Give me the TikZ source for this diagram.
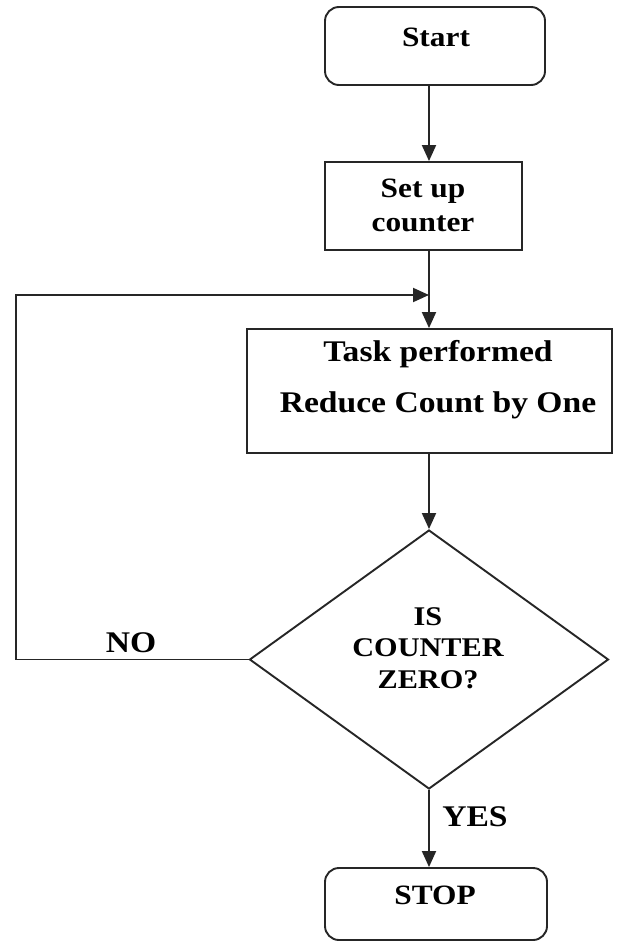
\documentclass[tikz,border=0pt]{standalone}
\usepackage{fontspec}
\setmainfont{Liberation Serif}[FakeStretch=1.12]
\usetikzlibrary{arrows.meta,shapes.geometric}
\begin{document}
\begin{tikzpicture}[x=1pt,y=-1pt,
  line/.style={draw=black!85, line width=1.9pt},
  arr/.style={line, -{Triangle[width=14pt,length=16pt]}},
  termbox/.style={line, rounded corners=14pt, inner sep=0pt},
  procbox/.style={line, inner sep=0pt},
  decbox/.style={line, diamond, inner sep=0pt, minimum width=359pt, minimum height=259pt},
  txt/.style={font=\bfseries\fontsize{28}{34}\selectfont, align=center, inner sep=0pt},
  dtxt/.style={font=\bfseries\fontsize{27}{31.5}\selectfont, align=center, inner sep=0pt},
  bigtxt/.style={font=\bfseries\fontsize{30}{51}\selectfont, align=center, inner sep=0pt}]

\useasboundingbox[fill=white] (0,0) rectangle (623,942);

% shapes
\node[termbox, minimum width=220pt, minimum height=78pt] (start) at (435,46) {};
\node[procbox, minimum width=197pt, minimum height=88pt] (setup) at (423.5,206) {};
\node[procbox, minimum width=365pt, minimum height=124pt] (task) at (429.5,391) {};
\node[decbox] (dec) at (429,659.5) {};
\node[termbox, minimum width=222pt, minimum height=72pt] (stop) at (436,904) {};

% texts
\node[txt] (starttxt) at (436,37) {Start};
\node[txt] (setuptxt) at (423,205) {Set up\\counter};
\node[bigtxt] (tasktxt) at (438,380) {Task performed\\Reduce Count by One};
\node[dtxt] (dectxt) at (428,648) {IS\\COUNTER\\ZERO?};
\node[txt] (stoptxt) at (435,895) {STOP};
\node[bigtxt] (no) at (131,643) {NO};
\node[bigtxt] (yes) at (475,817) {YES};

% connectors
\coordinate (loop) at (16,295);
\draw[arr] (start.south -| dec.north) -- (setup.north -| dec.north);
\draw[arr] (setup.south -| dec.north) -- (task.north -| dec.north);
\draw[arr] (task.south -| dec.north) -- (dec.north);
\draw[arr] (dec.west) -| (loop) -- (loop -| dec.north);
\draw[arr] (dec.south) -- (stop.north -| dec.south);
\end{tikzpicture}
\end{document}
